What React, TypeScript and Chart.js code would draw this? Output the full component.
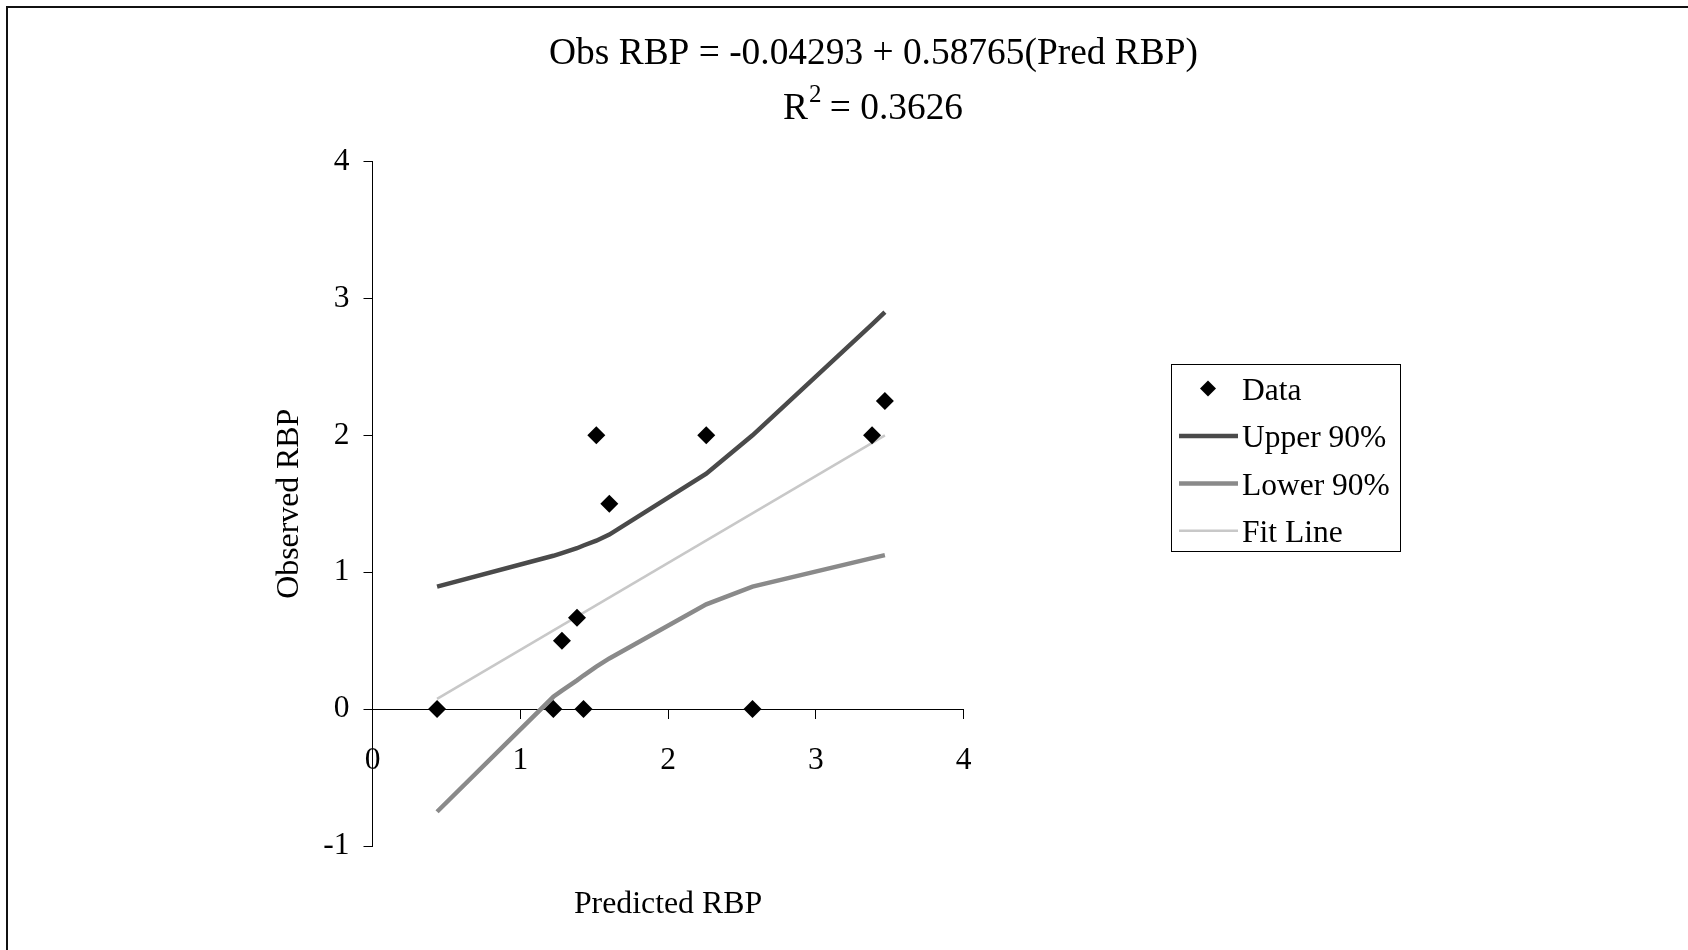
import React, { useEffect, useRef } from "react";
import { Chart, registerables } from "chart.js";

Chart.register(...registerables);

const FONT = "'Liberation Serif', 'Times New Roman', serif";

const titleLine1 = "Obs RBP = -0.04293 + 0.58765(Pred RBP)";
const titleLine2Base = "R";
const titleLine2Sup = "2";
const titleLine2Rest = " = 0.3626";
const xAxisTitle = "Predicted RBP";
const yAxisTitle = "Observed RBP";

// Data points
const predicted = [0.437, 1.224, 1.282, 1.384, 1.428, 1.515, 1.603, 2.259, 2.572, 3.381, 3.468];
const observed = [0, 0, 0.5, 0.667, 0, 2, 1.5, 2, 0, 2, 2.25];

// Prediction band
const bandX = [0.437, 1.224, 1.282, 1.384, 1.428, 1.515, 1.603, 2.259, 2.572, 3.381, 3.468];
const upper90 = [0.895, 1.12, 1.14, 1.175, 1.195, 1.23, 1.275, 1.72, 2.0, 2.81, 2.9];
const lower90 = [-0.75, 0.09, 0.135, 0.21, 0.245, 0.31, 0.37, 0.765, 0.895, 1.103, 1.125];

// Fit line
const fitX = [0.437, 3.468];
const fitY = [0.075, 2.0];

const xTicks = [0, 1, 2, 3, 4];
const yTicks = [-1, 0, 1, 2, 3, 4];

const seriesLabels = ["Data", "Upper 90%", "Lower 90%", "Fit Line"];

const toPts = (xs: number[], ys: number[]) => xs.map((x, i) => ({ x, y: ys[i] }));

const decorPlugin = {
  id: "decor",
  afterDraw(chart: any) {
    const ctx = chart.ctx as CanvasRenderingContext2D;
    const area = chart.chartArea;
    ctx.save();
    // outer frame (top + left visible)
    ctx.strokeStyle = "#111";
    ctx.lineWidth = 2;
    ctx.beginPath();
    ctx.moveTo(7, 1000);
    ctx.lineTo(7, 7);
    ctx.lineTo(1760, 7);
    ctx.stroke();

    // Title
    ctx.fillStyle = "#000";
    ctx.textBaseline = "middle";
    ctx.textAlign = "center";
    ctx.font = `37.4px ${FONT}`;
    ctx.fillText(titleLine1, 873.5, 54.5);

    ctx.textAlign = "left";
    ctx.font = `37.4px ${FONT}`;
    const wR = ctx.measureText(titleLine2Base).width;
    const wRest = ctx.measureText(titleLine2Rest).width;
    ctx.font = `25px ${FONT}`;
    const wSup = ctx.measureText(titleLine2Sup).width;
    const total = wR + wSup + wRest;
    const x0 = 873 - total / 2;
    ctx.font = `37.4px ${FONT}`;
    ctx.fillText(titleLine2Base, x0, 109);
    ctx.font = `25px ${FONT}`;
    ctx.fillText(titleLine2Sup, x0 + wR + 1, 95);
    ctx.font = `37.4px ${FONT}`;
    ctx.fillText(titleLine2Rest, x0 + wR + wSup, 109);

    // X axis title
    ctx.textAlign = "center";
    ctx.font = `31.8px ${FONT}`;
    ctx.fillText(xAxisTitle, (area.left + area.right) / 2, 905);

    // Legend
    const lx = 1171.5, ly = 364.5, lw = 229, lh = 187;
    ctx.fillStyle = "#fff";
    ctx.fillRect(lx, ly, lw, lh);
    ctx.strokeStyle = "#000";
    ctx.lineWidth = 1;
    ctx.strokeRect(lx, ly, lw, lh);
    const rows = [388.6, 436, 483.4, 530.7];
    const ds = chart.data.datasets;
    ctx.textAlign = "left";
    ctx.font = `31.5px ${FONT}`;
    ds.forEach((d: any, i: number) => {
      const y = rows[i];
      if (i === 0) {
        ctx.fillStyle = "#000";
        ctx.beginPath();
        const r = 8;
        ctx.moveTo(1208 - r, y);
        ctx.lineTo(1208, y - r);
        ctx.lineTo(1208 + r, y);
        ctx.lineTo(1208, y + r);
        ctx.closePath();
        ctx.fill();
      } else {
        ctx.strokeStyle = d.borderColor;
        ctx.lineWidth = d.borderWidth;
        ctx.beginPath();
        ctx.moveTo(1179, y);
        ctx.lineTo(1238, y);
        ctx.stroke();
      }
      ctx.fillStyle = "#000";
      ctx.fillText(d.label, 1242, y + 3);
    });
    ctx.restore();
  },
};

export default function App() {
  const canvasRef = useRef<HTMLCanvasElement | null>(null);

  useEffect(() => {
    if (!canvasRef.current) return;
    const chart = new Chart(canvasRef.current, {
      type: "scatter",
      data: {
        datasets: [
          {
            label: seriesLabels[0],
            data: toPts(predicted, observed),
            showLine: false,
            pointStyle: "rectRot",
            pointRadius: 9,
            pointBackgroundColor: "#000",
            pointBorderColor: "#000",
            pointBorderWidth: 0,
          },
          {
            label: seriesLabels[1],
            data: toPts(bandX, upper90),
            showLine: true,
            borderColor: "#4a4a4a",
            borderWidth: 4.5,
            pointRadius: 0,
            tension: 0,
          },
          {
            label: seriesLabels[2],
            data: toPts(bandX, lower90),
            showLine: true,
            borderColor: "#8a8a8a",
            borderWidth: 4.5,
            pointRadius: 0,
            tension: 0,
          },
          {
            label: seriesLabels[3],
            data: toPts(fitX, fitY),
            showLine: true,
            borderColor: "#c8c8c8",
            borderWidth: 2.5,
            pointRadius: 0,
            tension: 0,
          },
        ],
      },
      options: {
        responsive: false,
        animation: false,
        devicePixelRatio: 1,
        layout: { padding: { left: 271, right: 724.5, top: 161.5, bottom: 104 } },
        plugins: {
          legend: { display: false },
          title: { display: false },
          tooltip: { enabled: false },
        },
        scales: {
          x: {
            type: "linear",
            min: 0,
            max: 4,
            position: { y: 0 } as any,
            afterBuildTicks: (s: any) => {
              s.ticks = xTicks.map((v) => ({ value: v }));
            },
            ticks: {
              font: { family: FONT, size: 31.5 },
              color: "#000",
              padding: 24,
              maxRotation: 0,
            },
            grid: {
              drawOnChartArea: false,
              drawTicks: true,
              tickLength: 9,
              color: "#000",
            },
            border: { display: true, color: "#000", width: 1 },
          },
          y: {
            type: "linear",
            min: -1,
            max: 4,
            position: "left",
            afterBuildTicks: (s: any) => {
              s.ticks = yTicks.map((v) => ({ value: v }));
            },
            afterFit: (s: any) => {
              s.width = 101.5;
            },
            ticks: {
              font: { family: FONT, size: 31.5 },
              color: "#000",
              padding: 14,
            },
            grid: {
              drawOnChartArea: false,
              drawTicks: true,
              tickLength: 9,
              color: "#000",
            },
            border: { display: true, color: "#000", width: 1 },
            title: {
              display: true,
              text: yAxisTitle,
              font: { family: FONT, size: 31.8 },
              color: "#000",
              padding: { top: 0, bottom: 0 },
            },
          },
        },
      },
      plugins: [decorPlugin],
    });
    return () => chart.destroy();
  }, []);

  return (
    <div style={{ position: "fixed", left: 0, top: 0, width: 1688, height: 950, background: "#fff" }}>
      <canvas ref={canvasRef} width={1688} height={950} style={{ width: 1688, height: 950, display: "block" }} />
    </div>
  );
}
